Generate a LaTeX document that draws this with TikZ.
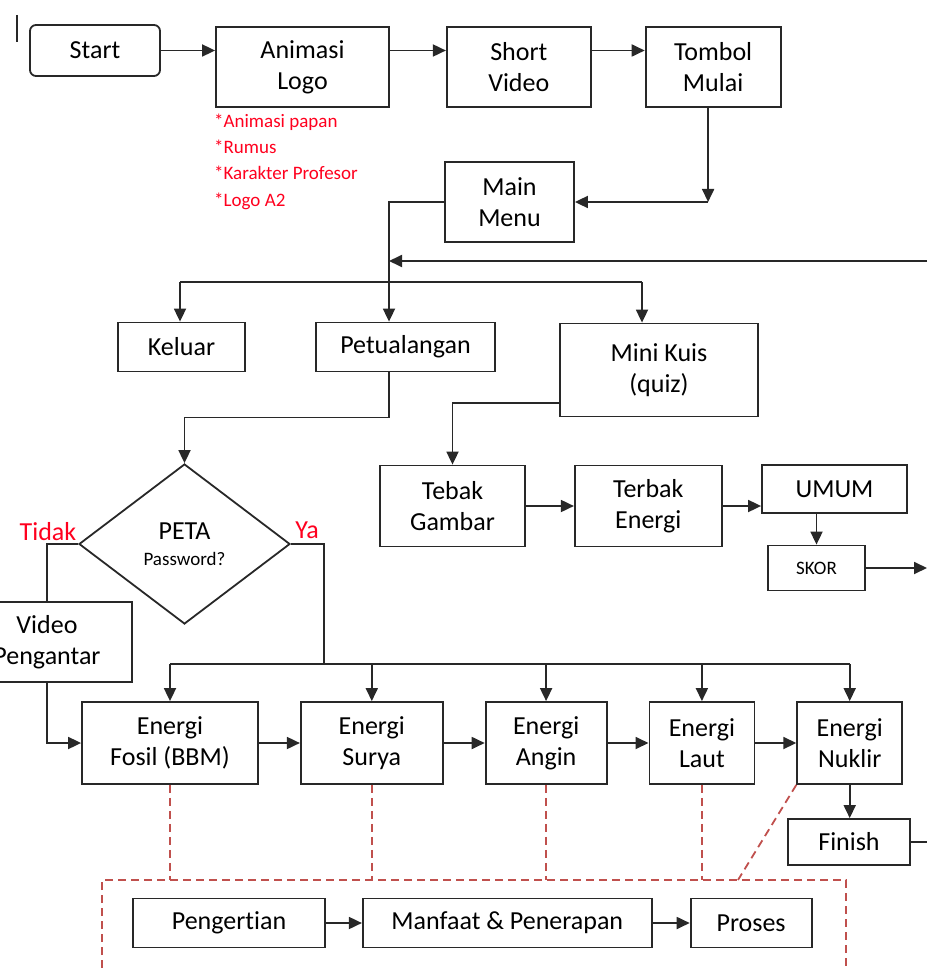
\documentclass[tikz,border=0pt]{standalone}
\usepackage{fontspec}
\setmainfont{Carlito}[Ligatures={NoCommon}]
\usetikzlibrary{positioning,arrows.meta,shapes.geometric}
\definecolor{linec}{RGB}{40,40,40}
\definecolor{notered}{RGB}{255,0,30}
\definecolor{dashred}{RGB}{192,80,77}

\begin{document}
\begin{tikzpicture}[x=1pt, y=-1pt, node distance=41pt, >={Triangle[length=13pt,width=12pt]},
    box/.style={draw=linec, line width=1.8pt, align=center, inner sep=2pt, font=\fontsize{26}{31}\selectfont},
    note/.style={text=notered, align=left, inner sep=0pt, font=\fontsize{19}{26.3}\selectfont},
    link/.style={draw=linec, line width=1.8pt},
    arrow/.style={link, ->},
    dashline/.style={draw=dashred, line width=1.8pt, dash pattern=on 8pt off 5pt}]
    \useasboundingbox (0,0) rectangle (927,968);

    % opening
    \node[box, rounded corners=6pt, minimum width=130pt, minimum height=51pt] (start) at (95,50.5) {Start};
    \node[box, minimum width=173pt, minimum height=80pt] (anim) at (302.5,67) {Animasi\\Logo};
    \node[box, minimum width=144pt, minimum height=80pt, right=56pt of anim] (short) {Short\\Video};
    \node[box, minimum width=135pt, minimum height=80pt, right=53pt of short] (tombol) {Tombol\\Mulai};
    \node[note, anchor=west] (notes) at (214,161.5) {*Animasi papan\\*Rumus\\*Karakter Profesor\\*Logo A2};
    \node[box, minimum width=129pt, minimum height=80pt] (menu) at (509.5,202) {Main\\Menu};

    % menu choices
    \node[box, minimum width=127pt, minimum height=49pt] (keluar) at (181.5,347) {Keluar};
    \node[box, minimum width=179pt, minimum height=49pt] (petual) at (405.5,347) {Petualangan};
    \node[box, minimum width=198pt, minimum height=93pt] (kuis) at (659,370) {Mini Kuis\\(quiz)};

    % map and energy levels
    \node[box, diamond, minimum width=211pt, minimum height=160pt, inner sep=0pt] (peta) at (184.5,544) {PETA\\[-5pt]{\fontsize{19}{23}\selectfont Password?}};
    \node[note, font=\fontsize{26}{31}\selectfont] (tidak) at (48,532) {Tidak};
    \node[note, font=\fontsize{26}{31}\selectfont] (ya) at (307,530) {Ya};
    \node[box, minimum width=170pt, minimum height=80pt] (vidpeng) at (47,642) {Video\\Pengantar};
    \node[box, minimum width=176pt, minimum height=82pt] (fosil) at (170,743) {Energi\\Fosil (BBM)};
    \node[box, minimum width=142pt, minimum height=82pt, right=of fosil] (surya) {Energi\\Surya};
    \node[box, minimum width=121pt, minimum height=82pt, right=of surya] (angin) {Energi\\Angin};
    \node[box, minimum width=105pt, minimum height=82pt, right=of angin] (laut) {Energi\\Laut};
    \node[box, minimum width=105pt, minimum height=82pt, right=of laut] (nuklir) {Energi\\Nuklir};
    \node[box, minimum width=122pt, minimum height=46pt] (finish) at (849,842) {Finish};
    \node[box, minimum width=192pt, minimum height=49pt] (pengertian) at (229,923) {Pengertian};
    \node[box, minimum width=289pt, minimum height=49pt, right=36pt of pengertian] (manfaat) {Manfaat \& Penerapan};
    \node[box, minimum width=121pt, minimum height=49pt, right=37pt of manfaat] (proses) {Proses};

    % quiz
    \node[box, minimum width=145pt, minimum height=81pt] (tebak) at (452.5,506) {Tebak\\Gambar};
    \node[box, minimum width=147pt, minimum height=81pt, right=48pt of tebak] (terbak) {Terbak\\Energi};
    \node[box, minimum width=145pt, minimum height=48pt] (umum) at (834.5,489) {UMUM};
    \node[box, minimum width=97pt, minimum height=45pt, font=\fontsize{19}{23}\selectfont] (skor) at (816.5,568) {SKOR};

    \coordinate (backR) at (927,261);
    \coordinate (backL) at (389,261);
    \coordinate (busL) at (180,282);
    \coordinate (busR) at (642,282);
    \coordinate (yaBus) at (324,664);
    \coordinate (grpTL) at (102,880);
    \coordinate (grpTR) at (846,880);
    \coordinate (grpBL) at (102,968);
    \coordinate (grpBR) at (846,968);
    \coordinate (grpN) at (738,880);
    \coordinate (skorR) at (927,568);
    \coordinate (finR) at (927,842);

    \draw[line width=2pt, linec] (17,15) -- (17,42);

    \draw[arrow] (start.east) -- (start.east -| anim.west);
    \draw[arrow] (anim.east |- start.east) -- (short.west |- start.east);
    \draw[arrow] (short.east |- start.east) -- (tombol.west |- start.east);
    \draw[arrow] ([xshift=-5pt]tombol.south) -- ([xshift=-5pt]tombol.south |- menu.east);
    \draw[arrow] ([xshift=-5pt]tombol.south |- menu.east) -- (menu.east);
    \draw[arrow] (menu.west) -| (petual.north -| backL);
    \draw[arrow] (backR) -- (backL);
    \draw[link] (busL) -- (busR);
    \draw[arrow] (busL) -- (keluar.north -| busL);
    \draw[arrow] (busR) -- (kuis.north -| busR);
    \draw[arrow] (petual.south -| backL) -- ++(0,45) -| (peta.north);

    \draw[link] (peta.west) -| (vidpeng.north);
    \draw[link] (peta.east) -| (yaBus);
    \draw[link] (fosil.north |- yaBus) -- (nuklir.north |- yaBus);
    \foreach \n in {fosil,surya,angin,laut,nuklir}
      \draw[arrow] (\n.north |- yaBus) -- (\n.north);
    \draw[arrow] (vidpeng.south) |- (fosil.west);
    \foreach \a/\b in {fosil/surya,surya/angin,angin/laut,laut/nuklir}
      \draw[arrow] (\a) -- (\b);
    \draw[arrow] (nuklir.south) -- (nuklir.south |- finish.north);
    \draw[link] (finish.east) -- (finR);

    % detail of every level
    \foreach \n in {fosil,surya,angin,laut}
      \draw[dashline] (\n.south) -- (\n.south |- grpTL);
    \draw[dashline] (nuklir.south west) -- (grpN);
    \draw[dashline] (grpBL) -- (grpTL) -- (grpTR) -- (grpBR);
    \draw[arrow] (pengertian) -- (manfaat);
    \draw[arrow] (manfaat) -- (proses);

    \draw[arrow] ([yshift=-33pt]kuis.west) -| (tebak.north);
    \draw[arrow] (tebak) -- (terbak);
    \draw[arrow] (terbak.east) -- (terbak.east -| umum.west);
    \draw[arrow] (umum.south -| skor.north) -- (skor.north);
    \draw[arrow] (skor.east) -- (skorR);
  \end{tikzpicture}
\end{document}
